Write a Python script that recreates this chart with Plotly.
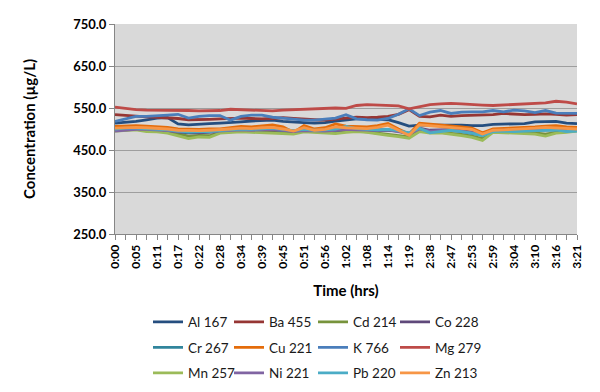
import plotly.graph_objects as go

times = ["0:00","0:02","0:05","0:08","0:11","0:14","0:17","0:19","0:22","0:25","0:28","0:31",
         "0:34","0:36","0:39","0:42","0:45","0:48","0:51","0:53","0:56","0:59","1:02","1:05",
         "1:08","1:11","1:14","1:16","1:19","2:35","2:38","2:42","2:47","2:50","2:53","2:56",
         "2:59","3:01","3:04","3:07","3:10","3:13","3:16","3:18","3:21"]

al_167 = [514,516,518,522,526,527,512,510,512,513,514,515,517,519,520,521,518,516,515,514,515,519,522,524,
          524,523,522,515,507,509,509,510,510,509,508,508,511,512,512,513,517,518,518,514,513]
ba_455 = [534,532,530,529,528,527,525,522,522,523,524,525,526,525,524,525,527,525,523,522,521,524,526,528,
          527,528,530,535,546,530,529,533,530,532,533,533,534,537,535,534,535,536,535,533,534]
cd_214 = [497,498,499,496,495,493,489,483,485,484,492,494,495,494,493,492,491,490,495,494,492,491,494,495,
          493,490,487,485,481,496,492,492,490,487,483,477,494,493,492,491,491,488,492,494,496]
co_228 = [496,498,500,499,498,496,493,491,491,492,494,496,497,497,497,498,497,495,496,495,494,496,498,497,
          497,496,497,495,489,502,497,498,499,496,492,489,497,498,497,498,500,501,501,499,499]
cr_267 = [499,500,501,500,499,497,494,492,493,493,495,497,498,497,498,499,497,495,497,496,495,497,500,499,
          498,497,498,495,490,500,493,495,497,494,490,485,496,496,495,496,497,497,498,495,496]
cu_221 = [506,507,508,507,506,504,500,499,499,500,500,503,506,505,508,510,505,492,508,500,503,512,507,506,
          505,508,513,500,488,514,512,510,507,505,502,491,500,501,502,503,505,507,508,505,504]
k_766 = [518,524,530,530,531,533,535,526,530,532,532,521,530,533,533,528,526,524,521,521,523,526,534,524,
         522,521,525,535,548,532,540,544,537,540,541,541,544,541,545,543,539,544,538,537,537]
mg_279 = [552,549,546,545,545,544,545,544,543,543,544,547,546,545,543,543,545,546,547,549,550,550,549,556,
          558,557,557,555,548,553,558,560,561,560,558,557,556,557,558,559,560,562,566,564,560]
mn_257 = [495,497,498,494,493,490,484,477,481,480,490,492,493,492,491,490,489,488,493,492,490,489,492,494,
          492,488,485,482,478,494,490,491,488,484,480,473,492,491,490,489,488,483,490,492,495]
ni_221 = [495,497,499,499,498,496,494,493,493,494,495,497,498,497,498,499,497,494,496,496,495,497,499,498,
          497,497,498,494,488,500,495,497,498,495,491,487,496,497,496,497,499,499,500,498,497]
pb_220 = [500,502,502,501,500,498,495,493,494,494,496,498,500,499,500,502,499,496,499,497,498,500,506,501,
          499,498,499,496,491,502,491,494,497,494,490,484,494,495,494,495,496,496,498,494,495]
zn_213 = [502,503,504,503,502,500,497,496,496,497,498,500,502,501,503,504,500,495,503,497,499,505,503,502,
          501,504,509,497,485,510,508,506,504,502,499,488,497,498,499,500,502,504,503,501,500]

series_names = ["Al 167","Ba 455","Cd 214","Co 228","Cr 267","Cu 221","K 766","Mg 279",
                "Mn 257","Ni 221","Pb 220","Zn 213"]
series_values = [al_167, ba_455, cd_214, co_228, cr_267, cu_221, k_766, mg_279,
                 mn_257, ni_221, pb_220, zn_213]
series_colors = ["#254E7F","#963634","#77933C","#5F497A","#31859C","#E46C0A","#4A7EBB","#BE4B48",
                 "#9BBB59","#8064A2","#4BACC6","#F79646"]
y_ticks = [250, 350, 450, 550, 650, 750]
y_title = "Concentration (µg/L)"
x_title = "Time (hrs)"

FONT = "Lato, 'Open Sans', sans-serif"
xs = list(range(len(times)))
legend_ids = ["legend", "legend2", "legend3", "legend4"]

fig = go.Figure()
for i, (name, vals, col) in enumerate(zip(series_names, series_values, series_colors)):
    fig.add_trace(go.Scatter(x=xs, y=vals, name=name, mode="lines",
                             line=dict(color=col, width=2.8), legend=legend_ids[i % 4],
                             legendgroup=name))

legend_common = dict(orientation="v", xref="container", yref="container",
                     xanchor="left", yanchor="top",
                     font=dict(family=FONT, size=13.5, color="#1a1a1a"),
                     bgcolor="rgba(0,0,0,0)", itemwidth=30, tracegroupgap=5)
col_x = [140, 221, 305, 387]
LY = 1 - 298.5 / 392
fig.update_layout(
    width=600, height=392,
    margin=dict(l=107, r=31, t=16, b=166, autoexpand=False),
    paper_bgcolor="white", plot_bgcolor="#D9D9D9",
    font=dict(family=FONT, color="#000000"),
    legend=dict(x=col_x[0]/600, y=LY, **legend_common),
    legend2=dict(x=col_x[1]/600, y=LY, **legend_common),
    legend3=dict(x=col_x[2]/600, y=LY, **legend_common),
    legend4=dict(x=col_x[3]/600, y=LY, **legend_common),
    xaxis=dict(range=[0, len(times)-1], tickmode="array", tickvals=xs[::2], ticktext=times[::2],
               tickangle=-90, ticks="outside", ticklen=5, tickcolor="#868686",
               tickfont=dict(family=FONT, size=12, color="#000000", weight="bold"),
               showline=True, linecolor="#868686", linewidth=1, showgrid=False, zeroline=False,
               minor=dict(ticks="outside", ticklen=5, tickcolor="#868686", dtick=1, tick0=0, showgrid=False),
               title=dict(text=x_title, font=dict(family=FONT, size=15, color="#000000", weight="bold"),
                          standoff=17)),
    yaxis=dict(range=[250, 750], tickmode="array", tickvals=y_ticks, tickformat=".1f",
               ticks="outside", ticklen=5, tickcolor="#868686",
               tickfont=dict(family=FONT, size=13, color="#000000", weight="bold"),
               showline=True, linecolor="#868686", linewidth=1,
               showgrid=True, gridcolor="#9E9E9E", gridwidth=1, zeroline=False),
    annotations=[dict(text=y_title, textangle=-90, xref="paper", yref="paper",
                      x=(21 - 107) / 462, y=0.5, xanchor="center", yanchor="middle",
                      showarrow=False,
                      font=dict(family=FONT, size=15, color="#000000", weight="bold"))],
)
fig.write_html("out.html")
